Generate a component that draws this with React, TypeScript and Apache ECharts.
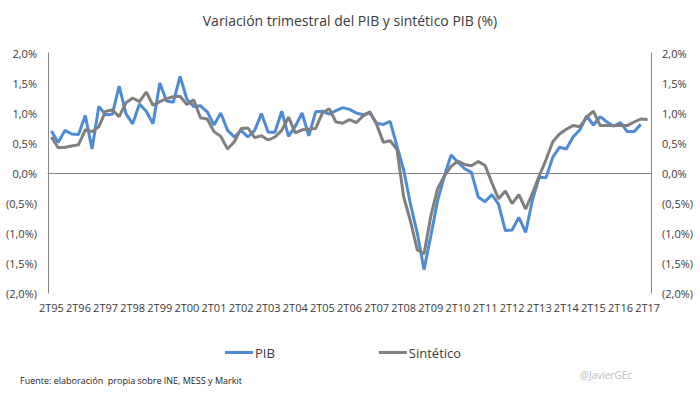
import { useEffect, useRef } from "react";
import * as echarts from "echarts";

const categories = [
  "2T95", "3T95", "4T95",
  "1T96", "2T96", "3T96", "4T96",
  "1T97", "2T97", "3T97", "4T97",
  "1T98", "2T98", "3T98", "4T98",
  "1T99", "2T99", "3T99", "4T99",
  "1T00", "2T00", "3T00", "4T00",
  "1T01", "2T01", "3T01", "4T01",
  "1T02", "2T02", "3T02", "4T02",
  "1T03", "2T03", "3T03", "4T03",
  "1T04", "2T04", "3T04", "4T04",
  "1T05", "2T05", "3T05", "4T05",
  "1T06", "2T06", "3T06", "4T06",
  "1T07", "2T07", "3T07", "4T07",
  "1T08", "2T08", "3T08", "4T08",
  "1T09", "2T09", "3T09", "4T09",
  "1T10", "2T10", "3T10", "4T10",
  "1T11", "2T11", "3T11", "4T11",
  "1T12", "2T12", "3T12", "4T12",
  "1T13", "2T13", "3T13", "4T13",
  "1T14", "2T14", "3T14", "4T14",
  "1T15", "2T15", "3T15", "4T15",
  "1T16", "2T16", "3T16", "4T16",
  "1T17", "2T17",
];

const pib = [
  0.70, 0.51, 0.71, 0.65, 0.64, 0.96, 0.40, 1.11, 0.97, 0.98,
  1.45, 0.99, 0.82, 1.15, 1.03, 0.82, 1.50, 1.20, 1.18, 1.61,
  1.23, 1.11, 1.12, 1.02, 0.80, 1.00, 0.71, 0.60, 0.71, 0.60,
  0.71, 0.99, 0.68, 0.68, 1.03, 0.61, 0.78, 1.00, 0.62, 1.02,
  1.03, 0.98, 1.04, 1.09, 1.06, 1.00, 0.97, 1.00, 0.83, 0.81,
  0.86, 0.45, 0.05, -0.52, -1.00, -1.61, -1.05, -0.46, -0.05, 0.30,
  0.18, 0.07, 0.01, -0.40, -0.48, -0.36, -0.52, -0.96, -0.95, -0.74,
  -0.99, -0.45, -0.07, -0.08, 0.26, 0.43, 0.40, 0.60, 0.72, 0.95,
  0.80, 0.94, 0.85, 0.78, 0.84, 0.69, 0.69, 0.81,
];

const sintetico = [
  0.60, 0.42, 0.43, 0.45, 0.47, 0.72, 0.69, 0.77, 1.03, 1.05,
  0.94, 1.17, 1.25, 1.19, 1.35, 1.13, 1.19, 1.24, 1.27, 1.28,
  1.14, 1.22, 0.92, 0.90, 0.69, 0.61, 0.40, 0.52, 0.74, 0.75,
  0.59, 0.62, 0.55, 0.60, 0.71, 0.93, 0.67, 0.72, 0.73, 0.74,
  1.00, 1.07, 0.85, 0.83, 0.89, 0.84, 0.95, 1.02, 0.81, 0.51,
  0.54, 0.39, -0.40, -0.80, -1.28, -1.35, -0.72, -0.26, -0.05, 0.11,
  0.20, 0.14, 0.12, 0.19, 0.13, -0.16, -0.43, -0.30, -0.51, -0.36,
  -0.60, -0.34, -0.05, 0.22, 0.52, 0.65, 0.73, 0.79, 0.77, 0.93,
  1.03, 0.79, 0.79, 0.79, 0.79, 0.79, 0.85, 0.90, 0.89,
];

const Y_MIN = -2;
const Y_MAX = 2;
const Y_STEP = 0.5;

const FONT = "Open Sans";
const AXIS_COLOR = "#868686";
const TEXT_COLOR = "#3a3a3a";

function fmtPct(v: number): string {
  const s = Math.abs(v).toFixed(1).replace(".", ",") + "%";
  return v < -1e-9 ? "(" + s + ")" : s;
}

function yAxisDef(position: "left" | "right") {
  return {
    type: "value",
    position,
    min: Y_MIN,
    max: Y_MAX,
    interval: Y_STEP,
    axisLine: { show: true, lineStyle: { color: AXIS_COLOR, width: 1 } },
    axisTick: { show: false },
    splitLine: { show: false },
    axisLabel: {
      formatter: fmtPct,
      fontSize: 11,
      color: TEXT_COLOR,
      fontFamily: FONT,
      margin: 11,
    },
  };
}

export default function App() {
  const ref = useRef<HTMLDivElement>(null);
  useEffect(() => {
    const chart = echarts.init(ref.current!, null, { renderer: "svg" });
    chart.setOption({
      animation: false,
      backgroundColor: "#ffffff",
      textStyle: { fontFamily: FONT },
      title: {
        text: "Variación trimestral del PIB y sintético PIB (%)",
        left: "center",
        top: 8,
        textStyle: { fontSize: 14, fontWeight: "normal", color: TEXT_COLOR, fontFamily: FONT },
      },
      legend: {
        data: ["PIB", "Sintético"],
        left: 220,
        top: 341,
        icon: "rect",
        itemWidth: 28,
        itemHeight: 3,
        itemGap: 104,
        textStyle: { fontSize: 13, color: TEXT_COLOR, fontFamily: FONT, padding: [0, 0, 0, -3] },
      },
      grid: { left: 48, right: 49, top: 53, bottom: 105 },
      xAxis: [
        {
          type: "category",
          data: categories,
          boundaryGap: true,
          axisLine: { show: true, onZero: true, lineStyle: { color: AXIS_COLOR, width: 1 } },
          axisTick: { show: false },
          axisLabel: { show: false },
          splitLine: { show: false },
        },
        {
          type: "category",
          data: categories,
          position: "bottom",
          boundaryGap: true,
          axisLine: { show: false, onZero: false },
          axisTick: { show: false },
          splitLine: { show: false },
          axisLabel: {
            interval: (_i: number, v: string) => v.startsWith("2T"),
            fontSize: 11,
            color: TEXT_COLOR,
            fontFamily: FONT,
            margin: 9,
          },
        },
      ],
      yAxis: [yAxisDef("left"), yAxisDef("right")],
      series: [
        {
          name: "PIB",
          type: "line",
          xAxisIndex: 0,
          yAxisIndex: 0,
          data: pib,
          showSymbol: false,
          symbol: "none",
          lineStyle: { color: "#4d8cd4", width: 3 },
          itemStyle: { color: "#4d8cd4" },
        },
        {
          name: "Sintético",
          type: "line",
          xAxisIndex: 0,
          yAxisIndex: 0,
          data: sintetico,
          showSymbol: false,
          symbol: "none",
          lineStyle: { color: "#7f7f7f", width: 3 },
          itemStyle: { color: "#7f7f7f" },
        },
      ],
      graphic: [
        {
          type: "text",
          left: 20,
          top: 376,
          style: {
            text: "Fuente: elaboración  propia sobre INE, MESS y Markit",
            fontSize: 9,
            fill: "#222",
            fontFamily: FONT,
          },
        },
        {
          type: "text",
          left: 580,
          top: 370,
          style: {
            text: "@JavierGEc",
            fontSize: 10,
            fill: "#bdbdbd",
            fontFamily: FONT,
          },
        },
      ],
    });
    return () => chart.dispose();
  }, []);
  return (
    <div
      ref={ref}
      style={{ position: "fixed", left: 0, top: 0, width: 700, height: 398, background: "#fff" }}
    />
  );
}
